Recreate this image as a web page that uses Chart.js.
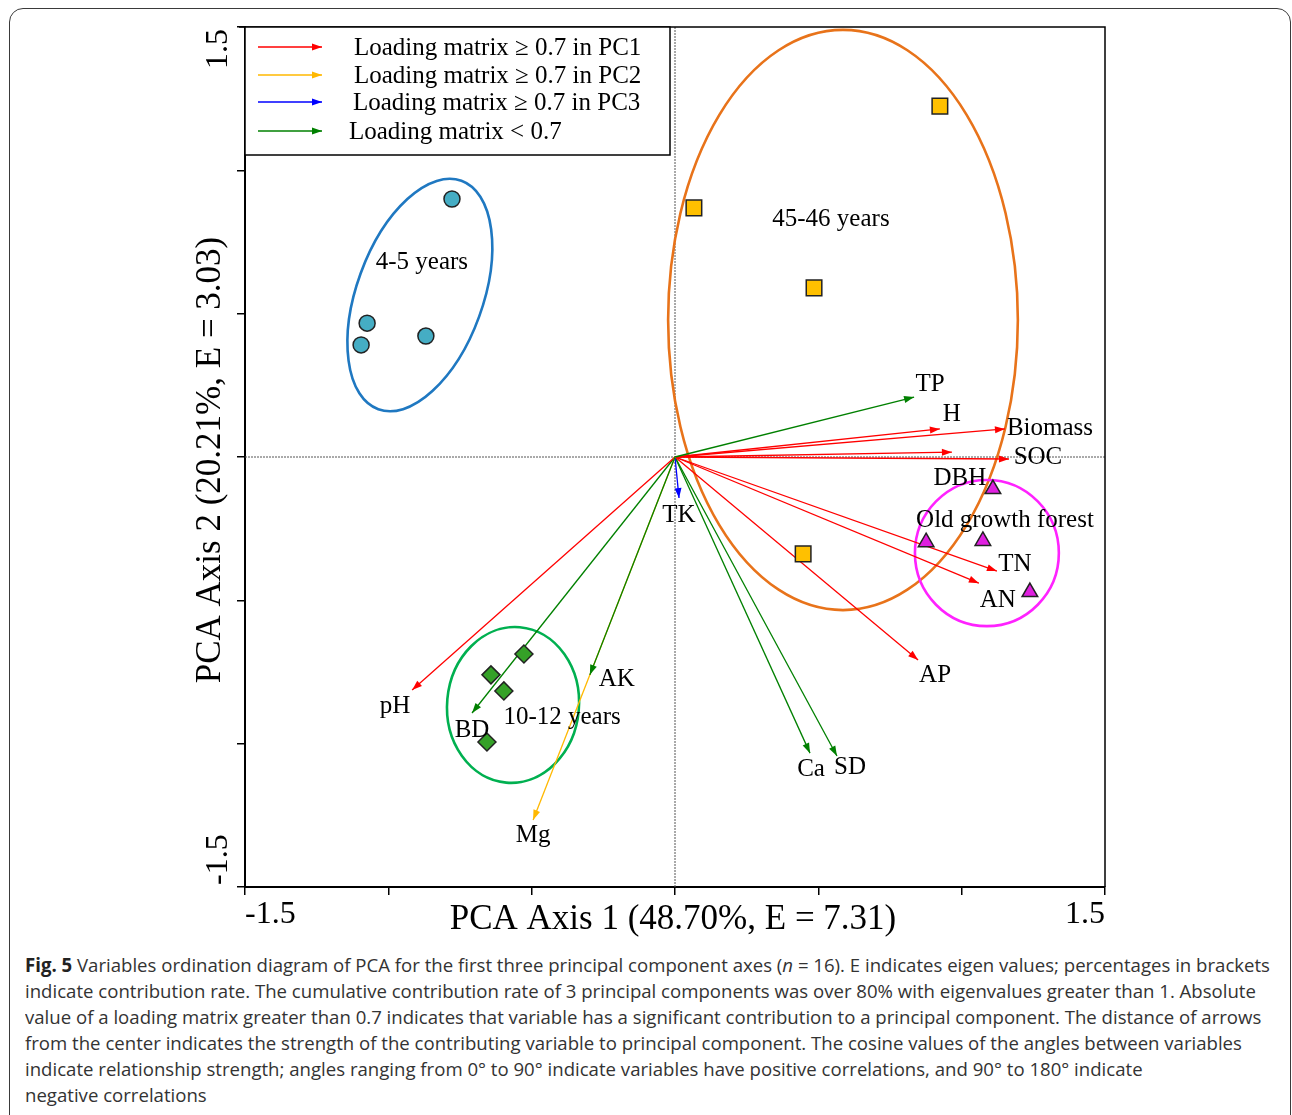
<!DOCTYPE html>
<html>
<head>
<meta charset="utf-8">
<script src="https://cdn.jsdelivr.net/npm/chart.js@4.4.0/dist/chart.umd.min.js"></script>
<style>
body { margin: 0; background: #fff; width: 1292px; height: 1115px; overflow: hidden; position: relative; }
#frame { position: absolute; left: 9px; top: 8px; width: 1280px; height: 1200px; border: 1.5px solid #3a3a3a; border-radius: 14px; }
#wrap { position: absolute; left: 0; top: 0; width: 1292px; height: 940px; }
#caption { position: absolute; left: 25px; top: 952px; font-family: "Open Sans", "Noto Sans", sans-serif; font-size: 19px; color: #333; line-height: 26px; transform-origin: 0 0; white-space: nowrap; }
#caption b { color: #222; }
</style>
</head>
<body>
<div id="frame"></div>
<div id="wrap"><canvas id="mycanvas"></canvas></div>
<div id="caption">
<div><span id="line1"><b>Fig. 5</b> Variables ordination diagram of PCA for the first three principal component axes (<i>n</i> = 16). E indicates eigen values; percentages in brackets</span></div>
<div>indicate contribution rate. The cumulative contribution rate of 3 principal components was over 80% with eigenvalues greater than 1. Absolute</div>
<div>value of a loading matrix greater than 0.7 indicates that variable has a significant contribution to a principal component. The distance of arrows</div>
<div>from the center indicates the strength of the contributing variable to principal component. The cosine values of the angles between variables</div>
<div>indicate relationship strength; angles ranging from 0° to 90° indicate variables have positive correlations, and 90° to 180° indicate</div>
<div>negative correlations</div>
</div>
<script>
// sample scores (PC1, PC2) per stand age group
var pc1_4y = [-0.778, -1.074, -1.095, -0.869];
var pc2_4y = [0.900, 0.467, 0.391, 0.422];
var pc1_10y = [-0.527, -0.642, -0.597, -0.656];
var pc2_10y = [-0.687, -0.760, -0.816, -0.994];
var pc1_45y = [0.924, 0.066, 0.485, 0.447];
var pc2_45y = [1.224, 0.869, 0.590, -0.338];
var pc1_old = [1.109, 0.876, 1.074, 1.238];
var pc2_old = [-0.112, -0.297, -0.293, -0.471];

// variable loadings
var variables = ['AK', 'Mg', 'TP', 'H', 'Biomass', 'DBH', 'SOC', 'TK', 'TN', 'AN', 'AP', 'pH', 'BD', 'Ca', 'SD'];
var loadPC1 = [-0.297, -0.495, 0.834, 0.924, 1.151, 0.966, 1.165, 0.014, 1.123, 1.060, 0.848, -0.917, -0.708, 0.471, 0.565];
var loadPC2 = [-0.760, -1.266, 0.209, 0.098, 0.098, 0.017, -0.007, -0.143, -0.398, -0.440, -0.708, -0.813, -0.893, -1.033, -1.043];
var loadClass = ['low', 'pc2', 'low', 'pc1', 'pc1', 'pc1', 'pc1', 'pc3', 'pc1', 'pc1', 'pc1', 'pc1', 'low', 'low', 'low'];

var legendLabels = ['Loading matrix \u2265 0.7 in PC1', 'Loading matrix \u2265 0.7 in PC2', 'Loading matrix \u2265 0.7 in PC3', 'Loading matrix < 0.7'];
var legendClass = ['pc1', 'pc2', 'pc3', 'low'];
var xTickLabels = ['-1.5', '1.5'];
var yTickLabels = ['-1.5', '1.5'];

var classColor = { pc1: '#ff0000', pc2: '#ffb800', pc3: '#0000ff', low: '#008000' };

// group ellipses in axis units
var groupNames = ['4-5 years', '10-12 years', '45-46 years', 'Old growth forest'];
var ellipses = [
	{ cx: -0.890, cy: 0.565, rx: 0.220, ry: 0.424, rot: 20, color: '#1f78c1', label: [-0.883, 0.677] },
	{ cx: -0.565, cy: -0.865, rx: 0.230, ry: 0.272, rot: 5, color: '#00b050', label: [-0.394, -0.910] },
	{ cx: 0.586, cy: 0.478, rx: 0.610, ry: 1.012, rot: 0, color: '#e8731a', label: [0.544, 0.827] },
	{ cx: 1.088, cy: -0.335, rx: 0.251, ry: 0.255, rot: 0, color: '#ff22ff', label: [1.151, -0.223] }
];

// label offsets from arrow tips, in pixels
var labelOffset = {
	AK: [27, 5], Mg: [0, 16], TP: [16, -13], H: [12, -14], Biomass: [45, 0], DBH: [8, 26],
	SOC: [29, -2], TK: [0, 17], TN: [18, -7], AN: [19, 17], AP: [17, 15], pH: [-17, 16],
	BD: [0, 17], Ca: [1, 16], SD: [13, 11]
};

function pairs(xs, ys) {
	var out = [];
	for (var i in xs) out.push({ x: xs[i], y: ys[i] });
	return out;
}

var datasets = [
	{ label: groupNames[0], data: pairs(pc1_4y, pc2_4y), pointStyle: 'circle', pointRadius: 8, backgroundColor: '#45adc4' },
	{ label: groupNames[1], data: pairs(pc1_10y, pc2_10y), pointStyle: 'rectRot', pointRadius: 9, backgroundColor: '#35a128' },
	{ label: groupNames[2], data: pairs(pc1_45y, pc2_45y), pointStyle: 'rect', pointRadius: 11, backgroundColor: '#ffc000' },
	{ label: groupNames[3], data: pairs(pc1_old, pc2_old), pointStyle: 'triangle', pointRadius: 9, backgroundColor: '#e020e0' }
];
datasets.forEach(function(d) {
	d.borderColor = '#222';
	d.borderWidth = 1.5;
	d.showLine = false;
});
for (var i in variables) {
	datasets.push({
		label: variables[i],
		arrow: true,
		data: [{ x: 0, y: 0 }, { x: loadPC1[i], y: loadPC2[i] }],
		showLine: true,
		borderColor: classColor[loadClass[i]],
		borderWidth: 1.3,
		pointRadius: 0
	});
}

function arrowHead(ctx, x0, y0, x1, y1, color) {
	var ang = Math.atan2(y1 - y0, x1 - x0);
	var len = 10, half = 3.5;
	ctx.save();
	ctx.fillStyle = color;
	ctx.beginPath();
	ctx.moveTo(x1, y1);
	ctx.lineTo(x1 - len * Math.cos(ang) + half * Math.sin(ang), y1 - len * Math.sin(ang) - half * Math.cos(ang));
	ctx.lineTo(x1 - len * Math.cos(ang) - half * Math.sin(ang), y1 - len * Math.sin(ang) + half * Math.cos(ang));
	ctx.closePath();
	ctx.fill();
	ctx.restore();
}

var serif = '"Liberation Serif", "Times New Roman", serif';

var pcaPlugin = {
	id: 'pca',
	beforeDatasetsDraw: function(chart) {
		var ctx = chart.ctx, xs = chart.scales.x, ys = chart.scales.y, a = chart.chartArea;
		var x0 = xs.getPixelForValue(0), y0 = ys.getPixelForValue(0);
		ctx.save();
		ctx.strokeStyle = '#555';
		ctx.lineWidth = 1;
		ctx.setLineDash([2, 1]);
		ctx.beginPath();
		ctx.moveTo(x0, a.top); ctx.lineTo(x0, a.bottom);
		ctx.moveTo(a.left, y0); ctx.lineTo(a.right, y0);
		ctx.stroke();
		ctx.setLineDash([]);
		var ux = xs.getPixelForValue(1) - x0, uy = y0 - ys.getPixelForValue(1);
		ellipses.forEach(function(e) {
			ctx.strokeStyle = e.color;
			ctx.lineWidth = 2.6;
			ctx.beginPath();
			ctx.ellipse(xs.getPixelForValue(e.cx), ys.getPixelForValue(e.cy), e.rx * ux, e.ry * uy, e.rot * Math.PI / 180, 0, Math.PI * 2);
			ctx.stroke();
		});
		ctx.restore();
	},
	afterDatasetDraw: function(chart, args) {
		var ds = chart.data.datasets[args.index];
		if (!ds.arrow) return;
		var p = args.meta.data;
		arrowHead(chart.ctx, p[0].x, p[0].y, p[1].x, p[1].y, ds.borderColor);
	},
	afterDraw: function(chart) {
		var ctx = chart.ctx, xs = chart.scales.x, ys = chart.scales.y, a = chart.chartArea;
		ctx.save();
		// top and right frame
		ctx.strokeStyle = '#000';
		ctx.lineWidth = 1.5;
		ctx.beginPath();
		ctx.moveTo(a.left - 6, a.top); ctx.lineTo(a.right, a.top); ctx.lineTo(a.right, a.bottom);
		ctx.stroke();

		ctx.fillStyle = '#000';
		ctx.textBaseline = 'middle';
		// variable labels
		ctx.font = '25px ' + serif;
		ctx.textAlign = 'center';
		chart.data.datasets.forEach(function(ds, k) {
			if (!ds.arrow) return;
			var tip = chart.getDatasetMeta(k).data[1];
			var off = labelOffset[ds.label];
			ctx.fillText(ds.label, tip.x + off[0], tip.y + off[1]);
		});
		// group labels
		ellipses.forEach(function(e, k) {
			ctx.fillText(groupNames[k], xs.getPixelForValue(e.label[0]), ys.getPixelForValue(e.label[1]));
		});

		// legend box
		ctx.fillStyle = '#fff';
		ctx.fillRect(a.left, a.top, 425, 128);
		ctx.strokeStyle = '#000';
		ctx.lineWidth = 1.5;
		ctx.strokeRect(a.left, a.top, 425, 128);
		ctx.textAlign = 'left';
		var rowsY = [47, 75, 102, 131], textX = [354, 354, 353, 349];
		legendLabels.forEach(function(t, k) {
			var c = classColor[legendClass[k]];
			ctx.strokeStyle = c;
			ctx.lineWidth = 1.3;
			ctx.beginPath();
			ctx.moveTo(258, rowsY[k]); ctx.lineTo(322, rowsY[k]);
			ctx.stroke();
			arrowHead(ctx, 258, rowsY[k], 322, rowsY[k], c);
			ctx.fillStyle = '#000';
			ctx.fillText(t, textX[k], rowsY[k] + 1);
		});

		// tick labels and axis titles
		ctx.font = '32px ' + serif;
		ctx.textAlign = 'left';
		ctx.fillText(xTickLabels[0], a.left, 915);
		ctx.textAlign = 'right';
		ctx.fillText(xTickLabels[1], a.right, 915);
		ctx.font = '35px ' + serif;
		ctx.textAlign = 'center';
		ctx.fillText('PCA Axis 1 (48.70%, E = 7.31)', 673, 920);

		function vtext(t, x, y, align) {
			ctx.save();
			ctx.translate(x, y);
			ctx.rotate(-Math.PI / 2);
			ctx.textAlign = align;
			ctx.fillText(t, 0, 0);
			ctx.restore();
		}
		ctx.font = '32px ' + serif;
		vtext(yTickLabels[1], 219, a.top + 2, 'right');
		vtext(yTickLabels[0], 219, a.bottom - 2, 'left');
		ctx.font = '35px ' + serif;
		vtext('PCA Axis 2 (20.21%, E = 3.03)', 211, 460, 'center');
		ctx.restore();
	}
};

var ctx = document.getElementById('mycanvas');
var chart = new Chart(ctx, {
	type: 'scatter',
	data: { datasets: datasets },
	options: {
		responsive: true,
		maintainAspectRatio: false,
		animation: false,
		layout: { padding: { left: 0, top: 27, right: 187, bottom: 0 } },
		plugins: { legend: { display: false }, tooltip: { enabled: false } },
		scales: {
			x: {
				type: 'linear', min: -1.5, max: 1.5,
				ticks: { stepSize: 0.5, callback: function() { return ''; } },
				grid: { drawOnChartArea: false, drawTicks: true, tickLength: 8, color: '#000', lineWidth: 1.5 },
				border: { display: true, color: '#000', width: 2 },
				afterFit: function(scale) { scale.height = 53; }
			},
			y: {
				type: 'linear', min: -1.5, max: 1.5,
				ticks: { stepSize: 0.5, callback: function() { return ''; } },
				grid: { drawOnChartArea: false, drawTicks: true, tickLength: 8, color: '#000', lineWidth: 1.5 },
				border: { display: true, color: '#000', width: 2 },
				afterFit: function(scale) { scale.width = 245; }
			}
		}
	},
	plugins: [pcaPlugin]
});

// squeeze caption to the figure width
var cap = document.getElementById('caption');
var w = document.getElementById('line1').getBoundingClientRect().width;
cap.style.transform = 'scaleX(' + (1245 / w) + ')';
</script>
</body>
</html>
